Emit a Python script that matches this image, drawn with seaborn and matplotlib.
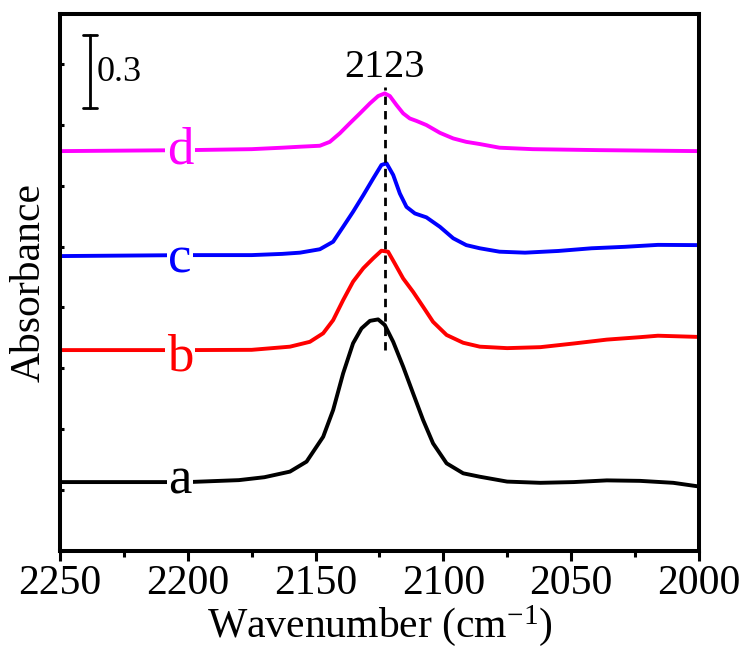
import matplotlib
matplotlib.use("Agg")
import matplotlib.pyplot as plt
import seaborn as sns
import pandas as pd
from matplotlib.ticker import MultipleLocator

# ---- data ----
wn_a = [2250, 2225, 2200, 2180, 2170, 2160, 2153.5, 2147.0, 2143.1, 2139.2, 2135.3, 2132.0,
        2128.7, 2125.5, 2122.9, 2119.6, 2115.7, 2111.8, 2107.9, 2104.0, 2098.7, 2092.2,
        2085.7, 2075, 2062, 2049, 2036, 2023, 2010, 2000]
abs_a = [0.283, 0.283, 0.283, 0.291, 0.303, 0.326, 0.367, 0.469, 0.579, 0.729, 0.853, 0.914,
         0.945, 0.951, 0.928, 0.859, 0.757, 0.647, 0.538, 0.442, 0.360, 0.319,
         0.305, 0.285, 0.280, 0.283, 0.290, 0.288, 0.280, 0.265]

wn_b = [2250, 2225, 2200, 2175, 2160, 2152.2, 2147.0, 2143.1, 2139.2, 2135.3, 2131.3,
        2127.4, 2124.2, 2121.6, 2119.0, 2115.7, 2111.8, 2107.9, 2104.0, 2098.7, 2092.2,
        2085.7, 2075, 2062, 2049, 2036, 2023, 2016, 2000]
abs_b = [0.825, 0.825, 0.825, 0.826, 0.839, 0.859, 0.894, 0.948, 1.030, 1.106, 1.161,
         1.202, 1.233, 1.229, 1.181, 1.119, 1.064, 1.003, 0.941, 0.887, 0.855,
         0.839, 0.833, 0.837, 0.852, 0.868, 0.878, 0.884, 0.879]

wn_c = [2250, 2200, 2175, 2163, 2156.1, 2148.3, 2143.1, 2139.2, 2135.3, 2131.3, 2127.4,
        2124.2, 2122.2, 2119.6, 2117.0, 2114.4, 2111.1, 2106.6, 2101.3, 2096.1, 2091.0,
        2085.7, 2078, 2068, 2055, 2042, 2029, 2016, 2000]
abs_c = [1.211, 1.215, 1.215, 1.220, 1.225, 1.239, 1.270, 1.331, 1.393, 1.461, 1.530,
         1.585, 1.592, 1.544, 1.468, 1.413, 1.386, 1.370, 1.331, 1.284, 1.256,
         1.243, 1.229, 1.225, 1.232, 1.243, 1.249, 1.257, 1.256]

wn_d = [2250, 2200, 2175, 2163, 2156.1, 2148.3, 2144.4, 2140.5, 2136.6, 2132.6, 2128.7,
        2125.5, 2122.9, 2120.9, 2118.3, 2115.7, 2113.1, 2110.5, 2106.6, 2101.3, 2096.1,
        2091.0, 2085.7, 2078, 2065, 2039, 2000]
abs_d = [1.642, 1.646, 1.650, 1.656, 1.660, 1.664, 1.680, 1.715, 1.756, 1.797, 1.838,
         1.868, 1.879, 1.868, 1.831, 1.797, 1.776, 1.766, 1.749, 1.717, 1.694,
         1.680, 1.671, 1.656, 1.650, 1.646, 1.642]

labels = ["a", "b", "c", "d"]
colors = ["#000000", "#FF0000", "#0000FF", "#FF00FF"]
label_wn = 2203
label_base = [0.238, 0.743, 1.145, 1.593]   # baseline of the letter labels
peak_wn = 2123
peak_text = "2123"
scale_value = 0.3

# ---- build long-form table ----
frames = []
for lab, w, a in zip(labels, [wn_a, wn_b, wn_c, wn_d], [abs_a, abs_b, abs_c, abs_d]):
    frames.append(pd.DataFrame({"wn": w, "abs": a, "sample": lab}))
df = pd.concat(frames, ignore_index=True)

sns.set_theme(style="ticks")
plt.rcParams["font.family"] = ["Liberation Serif", "DejaVu Serif"]
plt.rcParams["mathtext.fontset"] = "custom"
plt.rcParams["mathtext.rm"] = "Liberation Serif"
plt.rcParams["mathtext.it"] = "Liberation Serif:italic"
for key in ["text.color", "axes.labelcolor", "xtick.color", "ytick.color", "axes.edgecolor"]:
    plt.rcParams[key] = "black"

fig = plt.figure(figsize=(7.45, 6.51), dpi=100)
ax = fig.add_axes([0.0805, 0.1536, 0.8575, 0.8249])

sns.lineplot(data=df, x="wn", y="abs", hue="sample", palette=dict(zip(labels, colors)),
             sort=False, estimator=None, legend=False, linewidth=2.8, ax=ax)
for ln in ax.lines:
    ln.set_solid_joinstyle("round")
    ln.set_solid_capstyle("butt")

ax.set_xlim(2250, 2000)
ax.set_ylim(0, 2.205)

# dashed peak marker
ax.plot([peak_wn, peak_wn], [0.825, 1.905], ls=(0, (3, 2.2)), color="black", lw=2.0)
ax.text(peak_wn, 1.946, peak_text, ha="center", va="baseline", fontsize=29)

# scale bar
bx = 2238.3
ax.plot([bx, bx], [1.819, 1.819 + scale_value], color="black", lw=2.0)
ax.plot([bx - 2.7, bx + 2.7], [1.819, 1.819], color="black", lw=2.0)
ax.plot([bx - 2.7, bx + 2.7], [1.819 + scale_value, 1.819 + scale_value], color="black", lw=2.0)
ax.text(bx - 2.8, 1.965, str(scale_value), ha="left", va="center", fontsize=26)

# curve labels
for lab, col, yb in zip(labels, colors, label_base):
    ax.text(label_wn, yb, lab, color=col, ha="center", va="baseline", fontsize=38,
            bbox=dict(facecolor="white", edgecolor="none", pad=1.0))

# axes styling
for s in ax.spines.values():
    s.set_linewidth(2.9)
    s.set_color("black")
ax.xaxis.set_major_locator(MultipleLocator(50))
ax.xaxis.set_minor_locator(MultipleLocator(25))
ax.yaxis.set_major_locator(MultipleLocator(0.25))
ax.tick_params(axis="x", which="major", direction="out", length=7, width=2.2,
               labelsize=30, pad=3, colors="black")
ax.tick_params(axis="x", which="minor", direction="out", length=4, width=2.2)
ax.tick_params(axis="y", which="major", direction="in", length=3, width=2.2,
               labelleft=False)
ax.tick_params(top=False, right=False)

ax.set_xlabel(r"Wavenumber (cm$^{\mathrm{-1}}$)", fontsize=30, labelpad=0)
ax.set_ylabel("Absorbance", fontsize=30, labelpad=8)

fig.savefig("out.png", dpi=100)
